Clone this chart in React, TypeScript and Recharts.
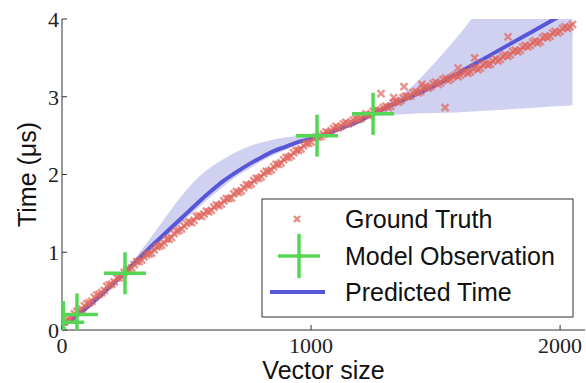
import React from 'react';
import { ComposedChart, Line, Area, Scatter, XAxis, YAxis, Label } from 'recharts';

// ground truth measurements: [vector size, time in µs]
const groundTruth: [number, number][] = [
  [0, 0.06], [20, 0.13], [40, 0.16], [60, 0.24], [80, 0.27], [100, 0.34], [120, 0.37], [140, 0.45],
  [160, 0.48], [180, 0.56], [200, 0.59], [220, 0.67], [240, 0.69], [260, 0.77], [280, 0.8], [300, 0.88],
  [320, 0.9], [340, 0.97], [360, 0.99], [380, 1.07], [400, 1.09], [420, 1.17], [440, 1.19], [460, 1.27],
  [480, 1.3], [500, 1.37], [520, 1.38], [540, 1.46], [560, 1.46], [580, 1.53], [600, 1.54], [620, 1.61],
  [640, 1.62], [660, 1.69], [680, 1.7], [700, 1.78], [720, 1.79], [740, 1.87], [760, 1.88], [780, 1.95],
  [800, 1.97], [820, 2.04], [840, 2.06], [860, 2.13], [880, 2.15], [900, 2.22], [920, 2.24], [940, 2.31],
  [960, 2.33], [980, 2.4], [1000, 2.42], [1020, 2.48], [1040, 2.49], [1060, 2.55], [1080, 2.56], [1100, 2.62],
  [1120, 2.62], [1140, 2.67], [1160, 2.67], [1180, 2.72], [1200, 2.72], [1220, 2.78], [1240, 2.77], [1260, 2.83],
  [1280, 2.82], [1300, 2.88], [1320, 2.88], [1340, 2.94], [1360, 2.95], [1380, 3.01], [1400, 3.01], [1420, 3.07],
  [1440, 3.07], [1460, 3.13], [1480, 3.13], [1500, 3.19], [1520, 3.18], [1540, 3.24], [1560, 3.23], [1580, 3.28],
  [1600, 3.28], [1620, 3.33], [1640, 3.32], [1660, 3.38], [1680, 3.37], [1700, 3.43], [1720, 3.42], [1740, 3.49],
  [1760, 3.48], [1780, 3.54], [1800, 3.54], [1820, 3.6], [1840, 3.6], [1860, 3.66], [1880, 3.66], [1900, 3.72],
  [1920, 3.71], [1940, 3.78], [1960, 3.78], [1980, 3.84], [2000, 3.84], [2020, 3.9], [2040, 3.9],
];

// second pass of runs, interleaved with the first
const groundTruthB: [number, number][] = [
  [10, 0.1], [30, 0.14], [50, 0.21], [70, 0.25], [90, 0.31], [110, 0.35], [130, 0.42], [150, 0.46],
  [170, 0.51], [190, 0.58], [210, 0.62], [230, 0.67], [250, 0.74], [270, 0.78], [290, 0.84], [310, 0.88],
  [330, 0.94], [350, 0.98], [370, 1.03], [390, 1.08], [410, 1.12], [430, 1.17], [450, 1.24], [470, 1.28],
  [490, 1.34], [510, 1.39], [530, 1.41], [550, 1.47], [570, 1.49], [590, 1.52], [610, 1.58], [630, 1.6],
  [650, 1.66], [670, 1.69], [690, 1.75], [710, 1.77], [730, 1.83], [750, 1.86], [770, 1.92], [790, 1.95],
  [810, 2.01], [830, 2.04], [850, 2.1], [870, 2.13], [890, 2.19], [910, 2.22], [930, 2.28], [950, 2.31],
  [970, 2.37], [990, 2.4], [1010, 2.46], [1030, 2.48], [1050, 2.52], [1070, 2.54], [1090, 2.59], [1110, 2.6],
  [1130, 2.65], [1150, 2.65], [1170, 2.7], [1190, 2.71], [1210, 2.75], [1230, 2.76], [1250, 2.81], [1270, 2.82],
  [1290, 2.86], [1310, 2.86], [1330, 2.92], [1350, 2.93], [1370, 2.99], [1390, 3.0], [1410, 3.05], [1430, 3.05],
  [1450, 3.11], [1470, 3.11], [1490, 3.17], [1510, 3.16], [1530, 3.22], [1550, 3.21], [1570, 3.26], [1590, 3.26],
  [1610, 3.31], [1630, 3.3], [1650, 3.36], [1670, 3.35], [1690, 3.41], [1710, 3.41], [1730, 3.46], [1750, 3.46],
  [1770, 3.52], [1790, 3.52], [1810, 3.58], [1830, 3.58], [1850, 3.64], [1870, 3.64], [1890, 3.7], [1910, 3.69],
  [1930, 3.76], [1950, 3.76], [1970, 3.82], [1990, 3.82], [2010, 3.88], [2030, 3.88], [2050, 3.93],
  // outliers
  [1281, 3.04], [1332, 2.99], [1373, 3.13], [1445, 3.16], [1538, 2.86], [1590, 3.37], [1657, 3.5], [1791, 3.77],
];

const observations: [number, number][] = [
  [5, 0.1], [60, 0.2], [253, 0.73], [1024, 2.5], [1249, 2.78],
];

const predX = [0, 50, 100, 150, 200, 250, 300, 350, 400, 450, 500, 550, 600, 650, 700, 750, 800, 850, 900, 950, 1000, 1050, 1100, 1150, 1200, 1250, 1300, 1400, 1500, 1600, 1700, 1800, 1900, 2000, 2050];
const predMean = [0.06, 0.16, 0.29, 0.43, 0.58, 0.73, 0.89, 1.05, 1.2, 1.35, 1.5, 1.65, 1.79, 1.92, 2.03, 2.13, 2.22, 2.3, 2.36, 2.42, 2.46, 2.51, 2.57, 2.63, 2.7, 2.78, 2.86, 3.0, 3.15, 3.32, 3.5, 3.68, 3.86, 4.04, 4.13];
const predLow = [0.04, 0.14, 0.27, 0.41, 0.56, 0.71, 0.86, 1.0, 1.14, 1.29, 1.44, 1.58, 1.72, 1.85, 1.97, 2.07, 2.17, 2.25, 2.32, 2.39, 2.44, 2.49, 2.55, 2.6, 2.66, 2.75, 2.76, 2.78, 2.79, 2.8, 2.82, 2.84, 2.86, 2.88, 2.89];
const predHigh = [0.08, 0.18, 0.31, 0.45, 0.6, 0.76, 0.95, 1.16, 1.38, 1.6, 1.8, 1.97, 2.1, 2.2, 2.29, 2.36, 2.41, 2.45, 2.48, 2.5, 2.51, 2.54, 2.6, 2.66, 2.74, 2.81, 2.9, 3.12, 3.45, 3.82, 4.25, 4.7, 5.2, 5.7, 6.0];

const xTicks = [0, 1000, 2000];
const yTicks = [0, 1, 2, 3, 4];

const RED = '#e0665e';
const GREEN = '#55d655';
const BLUE = '#5656d8';
const BAND = '#c4c4ee';

const predData = predX.map((x, i) => ({ x, mean: predMean[i], band: [predLow[i], predHigh[i]] }));
const gtData = groundTruth.concat(groundTruthB).map(([x, y]) => ({ x, y }));
const obsData = observations.map(([x, y]) => ({ x, y }));

const XMark = (props: any) => {
  const { cx, cy } = props;
  const s = 3.5;
  return (
    <g stroke={RED} strokeWidth={2.4} opacity={0.7}>
      <line x1={cx - s} y1={cy - s} x2={cx + s} y2={cy + s} />
      <line x1={cx - s} y1={cy + s} x2={cx + s} y2={cy - s} />
    </g>
  );
};

const Cross = (props: any) => {
  const { cx, cy } = props;
  const s = 21;
  return (
    <g stroke={GREEN} strokeWidth={3.5}>
      <line x1={cx - s} y1={cy} x2={cx + s} y2={cy} />
      <line x1={cx} y1={cy - s} x2={cx} y2={cy + s} />
    </g>
  );
};

const tickFont = { fontFamily: 'Liberation Serif', fontSize: 22, fill: '#222' };
const labelFont = { fontFamily: 'Liberation Sans', fontSize: 25, fill: '#111' };
const axisStroke = '#333';

const XLabel = (props: any) => {
  const { viewBox } = props;
  return (
    <text x={viewBox.x + viewBox.width / 2} y={379} textAnchor="middle" style={labelFont}>
      Vector size
    </text>
  );
};

const YLabel = (props: any) => {
  const { viewBox } = props;
  const cy = viewBox.y + viewBox.height / 2;
  return (
    <text x={36} y={cy} textAnchor="middle" transform={`rotate(-90, 36, ${cy})`} style={labelFont}>
      Time (μs)
    </text>
  );
};

const ChartLegend = () => (
  <svg width={313} height={120} style={{ position: 'absolute', left: 261, top: 198 }}>
    <rect x={1} y={1} width={311} height={118} fill="#fff" stroke={axisStroke} strokeWidth={1} />
    <g stroke={RED} strokeWidth={2.4} opacity={0.75}>
      <line x1={33} y1={18} x2={39} y2={24} />
      <line x1={33} y1={24} x2={39} y2={18} />
    </g>
    <g stroke={GREEN} strokeWidth={3.5}>
      <line x1={17} y1={58} x2={59} y2={58} />
      <line x1={38} y1={36} x2={38} y2={80} />
    </g>
    <line x1={9} y1={94} x2={64} y2={94} stroke={BLUE} strokeWidth={4} />
    <g style={labelFont}>
      <text x={84} y={30} fontFamily="Liberation Sans" fontSize={25}>Ground Truth</text>
      <text x={84} y={67} fontFamily="Liberation Sans" fontSize={25}>Model Observation</text>
      <text x={84} y={103} fontFamily="Liberation Sans" fontSize={25}>Predicted Time</text>
    </g>
  </svg>
);

export default function App() {
  return (
    <div style={{ position: 'absolute', left: 0, top: 0, width: 586, height: 383, background: '#fff' }}>
      <ComposedChart width={586} height={383} margin={{ top: 19, right: 1, bottom: 23, left: 22 }}>
        <XAxis
          xAxisId={0}
          dataKey="x"
          type="number"
          domain={[0, 2100]}
          ticks={xTicks}
          tickSize={-5}
          tickMargin={12}
          height={30}
          tick={tickFont}
          stroke={axisStroke}
          allowDataOverflow
        >
          <Label content={XLabel} />
        </XAxis>
        <XAxis
          xAxisId="top"
          orientation="top"
          type="number"
          domain={[0, 2100]}
          ticks={xTicks}
          tickSize={-5}
          height={0}
          tick={false}
          stroke={axisStroke}
        />
        <YAxis
          yAxisId={0}
          type="number"
          domain={[0, 4]}
          ticks={yTicks}
          tickSize={-5}
          tickMargin={8}
          width={40}
          tick={tickFont}
          stroke={axisStroke}
          allowDataOverflow
        >
          <Label content={YLabel} />
        </YAxis>
        <YAxis
          yAxisId="right"
          orientation="right"
          type="number"
          domain={[0, 4]}
          ticks={yTicks}
          tickSize={-5}
          width={0}
          tick={false}
          stroke={axisStroke}
        />
        <Area
          data={predData}
          dataKey="band"
          type="monotone"
          stroke="none"
          fill={BAND}
          fillOpacity={0.8}
          isAnimationActive={false}
        />
        <Scatter data={gtData} dataKey="y" shape={XMark} isAnimationActive={false} />
        <Line
          data={predData}
          dataKey="mean"
          type="monotone"
          stroke={BLUE}
          strokeWidth={4}
          dot={false}
          isAnimationActive={false}
        />
        <Scatter data={obsData} dataKey="y" shape={Cross} isAnimationActive={false} />
      </ComposedChart>
      <ChartLegend />
    </div>
  );
}
